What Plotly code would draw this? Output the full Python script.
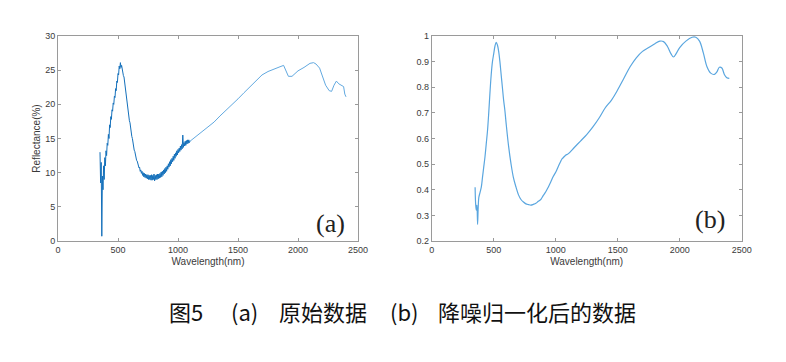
import plotly.graph_objects as go

# ---- Panel (a): raw reflectance (%) ----
raw_wl = [350,355,360,365,370,375,380,385,390,395,400,405,410,415,420,425,430,435,440,445,
          450,455,460,465,470,475,480,485,490,495,500,505,510,515,520,525,530,535,540,545,
          550,555,560,565,570,575,580,585,590,595,600,605,610,615,620,625,630,635,640,645,
          650,655,660,665,670,675,680,685,690,695,700,705,710,715,720,725,730,735,740,745,
          750,755,760,765,770,775,780,785,790,795,800,805,810,815,820,825,830,835,840,845,
          850,855,860,865,870,875,880,885,890,895,900,905,910,915,920,925,930,935,940,945,
          950,955,960,965,970,975,980,985,990,995,1000,1005,1010,1015,1020,1025,1030,1035,1040,1045,
          1050,1055,1060,1065,1070,1075,1080,1085,1090,1095,1100,
          1150,1200,1250,1300,1350,1400,1450,1500,1550,1600,1650,1700,1750,1800,1850,1880,1900,1920,
          1950,1980,2000,2050,2100,2130,2150,2180,2200,2230,2260,2280,2300,2320,2340,2360,2380,2390,2400]
raw_refl = [13.0,8.5,11.5,0.7,9.5,7.5,11.0,9.0,12.2,11.0,13.2,12.5,14.3,14.0,15.6,15.0,17.0,16.6,18.2,17.8,
            19.2,19.0,20.2,20.0,21.2,21.0,22.3,22.0,23.4,23.2,24.5,24.3,25.6,25.2,26.1,25.4,25.7,24.9,25.0,24.2,
            24.0,23.2,22.8,21.9,21.4,20.5,20.0,19.0,18.6,17.6,17.3,16.4,16.1,15.3,15.0,14.2,14.0,13.3,13.1,12.5,
            12.4,11.8,11.7,11.2,11.2,10.7,10.8,10.2,10.4,9.9,10.2,9.6,10.0,9.4,9.9,9.3,9.8,9.2,9.7,9.1,
            9.7,9.0,9.6,9.0,9.6,8.9,9.7,8.9,9.6,9.0,9.8,8.8,9.6,9.0,9.7,9.0,9.8,9.1,9.8,9.2,
            9.9,9.3,10.1,9.4,10.2,9.6,10.4,9.8,10.6,10.0,10.8,10.2,11.0,10.5,11.3,10.8,11.6,11.0,11.9,11.3,
            12.1,11.6,12.4,11.8,12.7,12.1,12.9,12.4,13.2,12.6,13.4,12.9,13.6,13.1,13.9,13.3,14.1,13.5,15.5,13.7,
            14.4,13.9,14.6,14.0,14.7,14.2,14.8,14.3,14.8,14.4,14.6,
            15.3,16.0,16.6,17.4,18.3,19.1,19.9,20.8,21.7,22.6,23.5,24.3,24.8,25.2,25.5,25.7,25.0,24.1,
            24.1,24.5,24.9,25.4,26.0,26.1,25.9,25.3,24.3,22.8,22.0,21.9,22.8,23.4,23.0,22.8,22.6,21.5,21.1]
NOISY_END = 1100  # the noisy (VNIR) part of the raw spectrum ends here

# ---- Panel (b): denoised, normalised ----
norm_wl = [350,355,360,365,370,375,380,390,400,410,420,430,440,450,460,470,480,490,500,510,520,530,540,
           550,560,570,580,590,600,620,640,660,680,700,720,740,760,780,800,820,840,860,880,900,920,940,
           960,980,1000,1020,1040,1050,1060,1080,1100,1150,1200,1250,1300,1350,1400,1450,1500,1550,1600,
           1650,1700,1750,1800,1840,1870,1900,1930,1950,1970,2000,2050,2100,2130,2160,2190,2220,2250,2280,
           2300,2320,2340,2360,2380,2400]
norm_val = [0.41,0.34,0.32,0.34,0.265,0.33,0.37,0.39,0.41,0.45,0.49,0.53,0.58,0.63,0.70,0.78,0.85,0.90,0.93,0.96,0.975,0.965,0.94,
            0.90,0.85,0.80,0.75,0.71,0.66,0.57,0.50,0.445,0.41,0.38,0.362,0.352,0.345,0.342,0.340,0.343,0.347,0.355,0.362,0.378,0.392,0.41,
            0.43,0.452,0.468,0.49,0.51,0.52,0.525,0.535,0.54,0.565,0.59,0.615,0.645,0.68,0.72,0.75,0.79,0.835,0.88,
            0.915,0.94,0.955,0.97,0.98,0.978,0.96,0.93,0.918,0.93,0.955,0.98,0.995,0.995,0.98,0.935,0.88,0.855,0.85,
            0.86,0.878,0.875,0.85,0.837,0.835]

x_ticks = [0, 500, 1000, 1500, 2000, 2500]
y1_ticks = [0, 5, 10, 15, 20, 25, 30]
y2_ticks = [0.2, 0.3, 0.4, 0.5, 0.6, 0.7, 0.8, 0.9, 1.0]
y2_labels = ["0.2", "0.3", "0.4", "0.5", "0.6", "0.7", "0.8", "0.9", "1"]

caption_parts = ["图5", "(a)", "原始数据", "(b)", "降噪归一化后的数据"]
caption_left_px = [167, 229, 277, 388, 436]

W, H = 786, 362
OFF = 8  # page body margin


def fx(p):
    return (p - OFF) / W


def fy(p):
    return (H - (p - OFF)) / H


split = raw_wl.index(NOISY_END) + 1
fig = go.Figure()
fig.add_trace(go.Scatter(x=raw_wl[:split], y=raw_refl[:split], mode="lines",
                         line=dict(color="#1470bb", width=1), xaxis="x", yaxis="y", showlegend=False))
fig.add_trace(go.Scatter(x=raw_wl[split - 1:], y=raw_refl[split - 1:], mode="lines",
                         line=dict(color="#62a9e0", width=1), xaxis="x", yaxis="y", showlegend=False))
fig.add_trace(go.Scatter(x=norm_wl, y=norm_val, mode="lines", line_shape="spline",
                         line=dict(color="#5aa6df", width=1.2), xaxis="x2", yaxis="y2", showlegend=False))

tickfont = dict(family="Liberation Sans, Arial", size=9, color="#3a3a3a")
titlefont = dict(family="Liberation Sans, Arial", size=10, color="#3a3a3a")
axcommon = dict(showline=True, linecolor="#9a9a9a", linewidth=1, mirror="ticks", ticks="inside",
                ticklen=3, tickcolor="#9a9a9a", showgrid=False, zeroline=False, tickfont=tickfont,
                automargin=False)

annotations = [
    dict(text="(a)", xref="x", yref="y", x=2267, y=2.6, showarrow=False,
         font=dict(family="Liberation Serif", size=26, color="#222222")),
    dict(text="(b)", xref="x2", yref="y2", x=2244, y=0.283, showarrow=False,
         font=dict(family="Liberation Serif", size=26, color="#222222")),
]
for txt, px in zip(caption_parts, caption_left_px):
    annotations.append(dict(text=txt, xref="paper", yref="paper", x=fx(px), y=fy(311),
                            showarrow=False, xanchor="left", yanchor="middle",
                            font=dict(family="Noto Sans CJK SC", size=22, color="#111111")))

fig.update_layout(
    width=W, height=H, autosize=False, template="none",
    margin=dict(l=0, r=0, t=0, b=0, pad=0),
    paper_bgcolor="white", plot_bgcolor="white",
    xaxis=dict(domain=[fx(58), fx(358)], range=[0, 2500], tickvals=x_ticks, anchor="y",
               title=dict(text="Wavelength(nm)", font=titlefont, standoff=4), **axcommon),
    yaxis=dict(domain=[fy(241), fy(36)], range=[0, 30], tickvals=y1_ticks, anchor="x",
               title=dict(text="Reflectance(%)", font=titlefont, standoff=2), **axcommon),
    xaxis2=dict(domain=[fx(431.7), fx(741.7)], range=[0, 2500], tickvals=x_ticks, anchor="y2",
                title=dict(text="Wavelength(nm)", font=titlefont, standoff=4), **axcommon),
    yaxis2=dict(domain=[fy(241), fy(36)], range=[0.2, 1.0], tickvals=y2_ticks, ticktext=y2_labels,
                anchor="x2", **axcommon),
    annotations=annotations,
)
fig.write_html("out.html")
